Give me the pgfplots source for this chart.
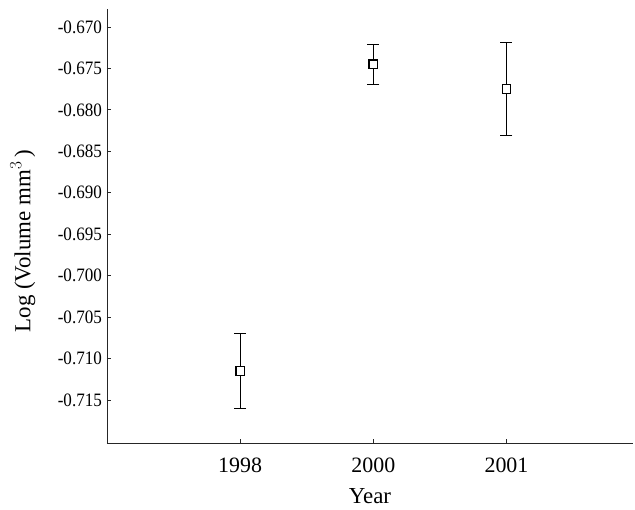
\documentclass[border=0pt]{standalone}
\usepackage{pgfplots}
\pgfplotsset{compat=1.18}
\usepackage{fontspec}
\setmainfont{Liberation Serif}

% mean log volume per year, with its error half-width
\pgfplotstableread{
x  y        e
0  -0.7115  0.0045
1  -0.6745  0.0024
2  -0.6775  0.0056
}\volumes

\begin{document}
\begin{tikzpicture}
\useasboundingbox (-107bp,-67bp) rectangle (528bp,443bp);
\begin{axis}[
  at={(0,0)}, anchor=south west,
  scale only axis,
  width=526bp, height=434bp,
  xmin=-1, xmax=2.95,
  ymin=-0.72019, ymax=-0.66783,
  axis x line*=bottom, axis y line*=left,
  axis line style={line width=0.8pt, black!85},
  tick style={line width=0.8pt, black!85},
  major tick length=4bp,
  tick align=inside,
  xtick={0,1,2},
  xticklabels={1998,2000,2001},
  ytick={-0.670,-0.675,-0.680,-0.685,-0.690,-0.695,-0.700,-0.705,-0.710,-0.715},
  yticklabels={{-0.670},{-0.675},{-0.680},{-0.685},{-0.690},{-0.695},{-0.700},{-0.705},{-0.710},{-0.715}},
  xticklabel style={font=\fontsize{22}{22}\selectfont, yshift=-11bp},
  yticklabel style={font=\fontsize{19}{19}\selectfont, xshift=-2bp, xscale=0.9},
  xlabel={Year},
  ylabel={Log (Volume mm$^{3}$\,)},
  label style={font=\fontsize{23}{23}\selectfont},
  xlabel style={at={(axis description cs:0.5,0)}, anchor=center, yshift=-53bp},
  ylabel style={at={(axis description cs:-0.160,0.465)}, anchor=center},
  clip=false,
]
% error bars
\addplot[
  only marks, black, mark=none, line width=1.3pt,
  error bars/.cd, y dir=both, y explicit,
  error bar style={line width=1.3pt},
  error mark options={rotate=90, mark size=6bp, line width=1.3pt},
] table[x=x, y=y, y error=e] {\volumes};
% open square means on top of the bars
\addplot[
  only marks, black,
  mark=square*, mark size=4.3bp,
  mark options={fill=white, draw=black, line width=1.3pt},
] table[x=x, y=y] {\volumes};
\end{axis}
\end{tikzpicture}
\end{document}
